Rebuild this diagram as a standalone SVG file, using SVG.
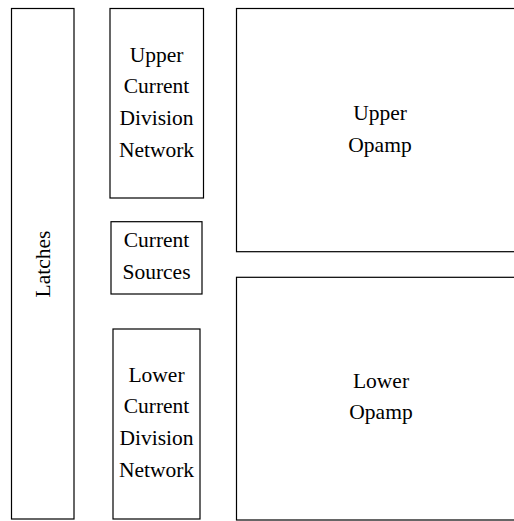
<svg xmlns="http://www.w3.org/2000/svg" width="514" height="521" viewBox="0 0 514 521">
<defs>
<style>
rect{fill:#fff;stroke:#000;stroke-width:1.2}
text{font-family:'Liberation Serif','Times New Roman',serif;font-size:21.5px;fill:#000;text-anchor:middle}
</style>
</defs>
<rect x="0" y="0" width="514" height="521" style="stroke:none"/>
<g id="latches">
<rect x="11.5" y="8.5" width="62.5" height="510.5"/>
<text transform="translate(49.5,264) rotate(-90)">Latches</text>
</g>
<g id="upper-cdn">
<rect x="110" y="8.5" width="93.5" height="189.5"/>
<text x="156.5" y="61.7">Upper</text>
<text x="156.5" y="93.3">Current</text>
<text x="156.5" y="125">Division</text>
<text x="156.5" y="156.7">Network</text>
</g>
<g id="current-sources">
<rect x="111" y="221.7" width="91" height="72.3"/>
<text x="156.5" y="246.7">Current</text>
<text x="156.5" y="279">Sources</text>
</g>
<g id="lower-cdn">
<rect x="113" y="329" width="87" height="190"/>
<text x="156.5" y="381.7">Lower</text>
<text x="156.5" y="413.3">Current</text>
<text x="156.5" y="445">Division</text>
<text x="156.5" y="476.7">Network</text>
</g>
<g id="upper-opamp">
<rect x="236.5" y="8.5" width="290" height="243.2"/>
<text x="380" y="120">Upper</text>
<text x="380" y="151.7">Opamp</text>
</g>
<g id="lower-opamp">
<rect x="236.5" y="277.3" width="290" height="242.7"/>
<text x="381" y="388.3">Lower</text>
<text x="381" y="419.3">Opamp</text>
</g>
<g id="connectors"></g>
</svg>
